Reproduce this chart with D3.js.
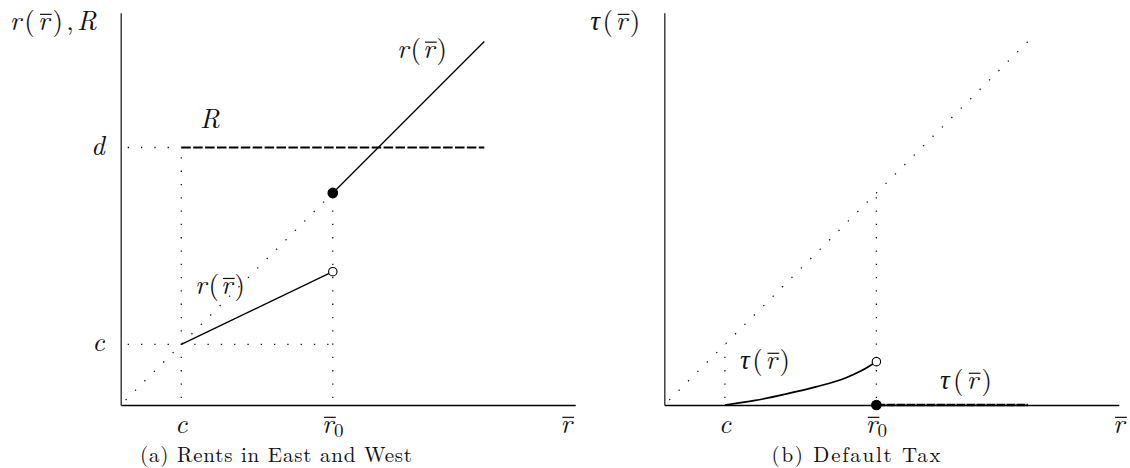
<!DOCTYPE html>
<html>
<head>
<meta charset="utf-8">
<script src="https://cdn.jsdelivr.net/npm/d3@7"></script>
<style>
  body { margin: 0; background: #fff; }
</style>
</head>
<body>
<svg id="chart" width="1130" height="468"></svg>
<script>
// key values on the r-bar axis
var c = 2, r0 = 7, d = 8.5;

// tick labels
var xTickValues = [c, r0];
var xTickLabels = ["c", "r0"];
var yTickValues = [c, d];
var yTickLabels = ["c", "d"];

// (a) rents
var rentLowX = [2, 7];
var rentLowY = [2, 4.4];
var rentHighX = [7, 12];
var rentHighY = [7, 12];
var rentRX = [2, 12];
var rentRY = [8.5, 8.5];

// (b) default tax
var taxX = [2, 3, 4, 5, 6, 6.5, 7];
var taxY = [0, 0.15, 0.36, 0.6, 0.9, 1.13, 1.43];
var taxZeroX = [7, 12];
var taxZeroY = [0, 0];

var font = "'Latin Modern Roman', 'Liberation Serif', serif";
var fs = 27;
var svg = d3.select("#chart");

// lays out a label piece by piece: "i" italic, "n" upright, "b" r with bar, "s" subscript
function mathLabel(g0, x, y, parts, anchor, len) {
    var g = g0.append("g");
    var cur = 0, widths = [], items = [];
    parts.forEach(function (p) {
        var t = g.append("text").attr("y", 0)
            .style("font-family", font).style("font-size", fs + "px")
            .attr("fill", "#111")
            .text(p[1] == "b" ? "r" : p[0]);
        if (p[1] == "i" || p[1] == "b") t.style("font-style", "italic");
        if (p[1] == "s") t.style("font-size", "19px").attr("y", 3.5);
        items.push(t);
        widths.push(t.node().getComputedTextLength());
    });
    var total = d3.sum(widths);
    var gap = (len && parts.length > 1) ? Math.max(0, (len - total) / (parts.length - 1)) : 0.5;
    items.forEach(function (t, i) {
        t.attr("x", cur);
        if (parts[i][1] == "b") {
            g.append("line")
                .attr("x1", cur + 2).attr("x2", cur + widths[i] + 2.3)
                .attr("y1", -fs * 0.58).attr("y2", -fs * 0.58)
                .attr("stroke", "#111").attr("stroke-width", 1.2);
        }
        cur += widths[i] + (parts[i + 1] && parts[i + 1][1] == "s" ? 0.5 : gap);
    });
    var full = cur - gap;
    var shift = anchor == "end" ? -full : anchor == "middle" ? -full / 2 : 0;
    g.attr("transform", "translate(" + (x + shift) + "," + y + ")");
    return g;
}

function tickParts(lab) {
    if (lab == "r0") return [["r", "b"], ["0", "s"]];
    return [[lab, "i"]];
}
var rParts = [["r", "i"], ["(", "n"], ["r", "b"], [")", "n"]];
var tauParts = [["\u03c4", "i"], ["(", "n"], ["r", "b"], [")", "n"]];

function panel(left, opts) {
    var g = svg.append("g");
    var x = d3.scaleLinear().domain([0, 15]).range([left, left + 454.5]);
    var y = d3.scaleLinear().domain([0, 12.95]).range([405, 12.7]);

    // axes, no ticks
    g.append("g").attr("transform", "translate(0,405)")
        .call(d3.axisBottom(x).tickValues([]).tickSizeOuter(0))
        .select(".domain").attr("stroke", "#000").attr("stroke-width", 1.3);
    g.append("g").attr("transform", "translate(" + left + ",0)")
        .call(d3.axisLeft(y).tickValues([]).tickSizeOuter(0))
        .select(".domain").attr("stroke", "#333").attr("stroke-width", 1.4);

    // dotted guides
    g.selectAll(".guide").data(opts.guides).enter().append("line")
        .attr("x1", function (p) { return x(p[0]); })
        .attr("y1", function (p) { return y(p[1]); })
        .attr("x2", function (p) { return x(p[2]); })
        .attr("y2", function (p) { return y(p[3]); })
        .attr("stroke", "#111")
        .attr("stroke-width", 1.3)
        .attr("stroke-dasharray", "1.3,12")
        .attr("stroke-dashoffset", -7);

    var line = d3.line().x(function (p) { return x(p[0]); }).y(function (p) { return y(p[1]); });
    opts.lines.forEach(function (l) {
        g.append("path")
            .datum(d3.zip(l.xs, l.ys))
            .attr("d", line.curve(l.curve || d3.curveLinear))
            .attr("fill", "none")
            .attr("stroke", "#000")
            .attr("stroke-width", l.w || 1.3)
            .attr("stroke-dasharray", l.dash || null);
    });

    g.selectAll(".dot").data(opts.dots).enter().append("circle")
        .attr("cx", function (p) { return x(p[0]); })
        .attr("cy", function (p) { return y(p[1]); })
        .attr("r", function (p) { return p[2] ? 4.8 : 4.2; })
        .attr("fill", function (p) { return p[2] ? "#000" : "#fff"; })
        .attr("stroke", "#000")
        .attr("stroke-width", 1.1);

    // x tick labels
    xTickValues.forEach(function (v, i) {
        mathLabel(g, x(v), 433, tickParts(xTickLabels[i]), "middle");
    });
    mathLabel(g, x(opts.endLabel), 433, [["r", "b"]], "middle");

    if (opts.yTicks) {
        yTickValues.forEach(function (v, i) {
            mathLabel(g, left - 16, y(v) + 7, [[yTickLabels[i], "i"]], "end");
        });
    }

    mathLabel(g, left - 24, opts.titleY, opts.title, "end", opts.titleLen);

    opts.notes.forEach(function (n) {
        mathLabel(g, x(n.x), y(n.y), n.parts, "start", n.len);
    });

    g.append("text")
        .attr("x", opts.capX).attr("y", 462)
        .attr("text-anchor", "middle")
        .style("font-family", font)
        .style("font-size", "21px")
        .attr("fill", "#111")
        .attr("textLength", opts.capLen).attr("lengthAdjust", "spacing")
        .text(opts.caption);
}

panel(120.7, {
    guides: [[0, 0, r0, r0], [0, d, c, d], [c, 0, c, d], [0, c, r0, c], [r0, 0, r0, r0]],
    lines: [
        { xs: rentLowX, ys: rentLowY },
        { xs: rentHighX, ys: rentHighY },
        { xs: rentRX, ys: rentRY, w: 1.8, dash: "9.5,2.4" }
    ],
    dots: [[rentLowX[1], rentLowY[1], false], [rentHighX[0], rentHighY[0], true]],
    endLabel: 14.7,
    yTicks: true,
    title: rParts.concat([[",", "n"], ["R", "i"]]),
    titleY: 30,
    titleLen: 87,
    notes: [
        { x: 2.62, y: 9.15, parts: [["R", "i"]] },
        { x: 9.12, y: 11.46, parts: rParts, len: 50 },
        { x: 2.45, y: 3.66, parts: rParts, len: 50 }
    ],
    caption: "(a) Rents in East and West",
    capX: 276,
    capLen: 272
});

panel(664.3, {
    guides: [[0, 0, 12, 12], [c, 0, c, c], [r0, 0, r0, r0]],
    lines: [
        { xs: taxX, ys: taxY, w: 1.7, curve: d3.curveMonotoneX },
        { xs: taxZeroX, ys: taxZeroY, w: 2.4, dash: "9,1" }
    ],
    dots: [[taxX[taxX.length - 1], taxY[taxY.length - 1], false], [taxZeroX[0], taxZeroY[0], true]],
    endLabel: 15,
    yTicks: false,
    title: tauParts,
    titleY: 30,
    titleLen: 50,
    notes: [
        { x: 2.5, y: 1.19, parts: tauParts, len: 50 },
        { x: 9.1, y: 0.53, parts: tauParts, len: 52 }
    ],
    caption: "(b) Default Tax",
    capX: 856,
    capLen: 169
});
</script>
</body>
</html>
